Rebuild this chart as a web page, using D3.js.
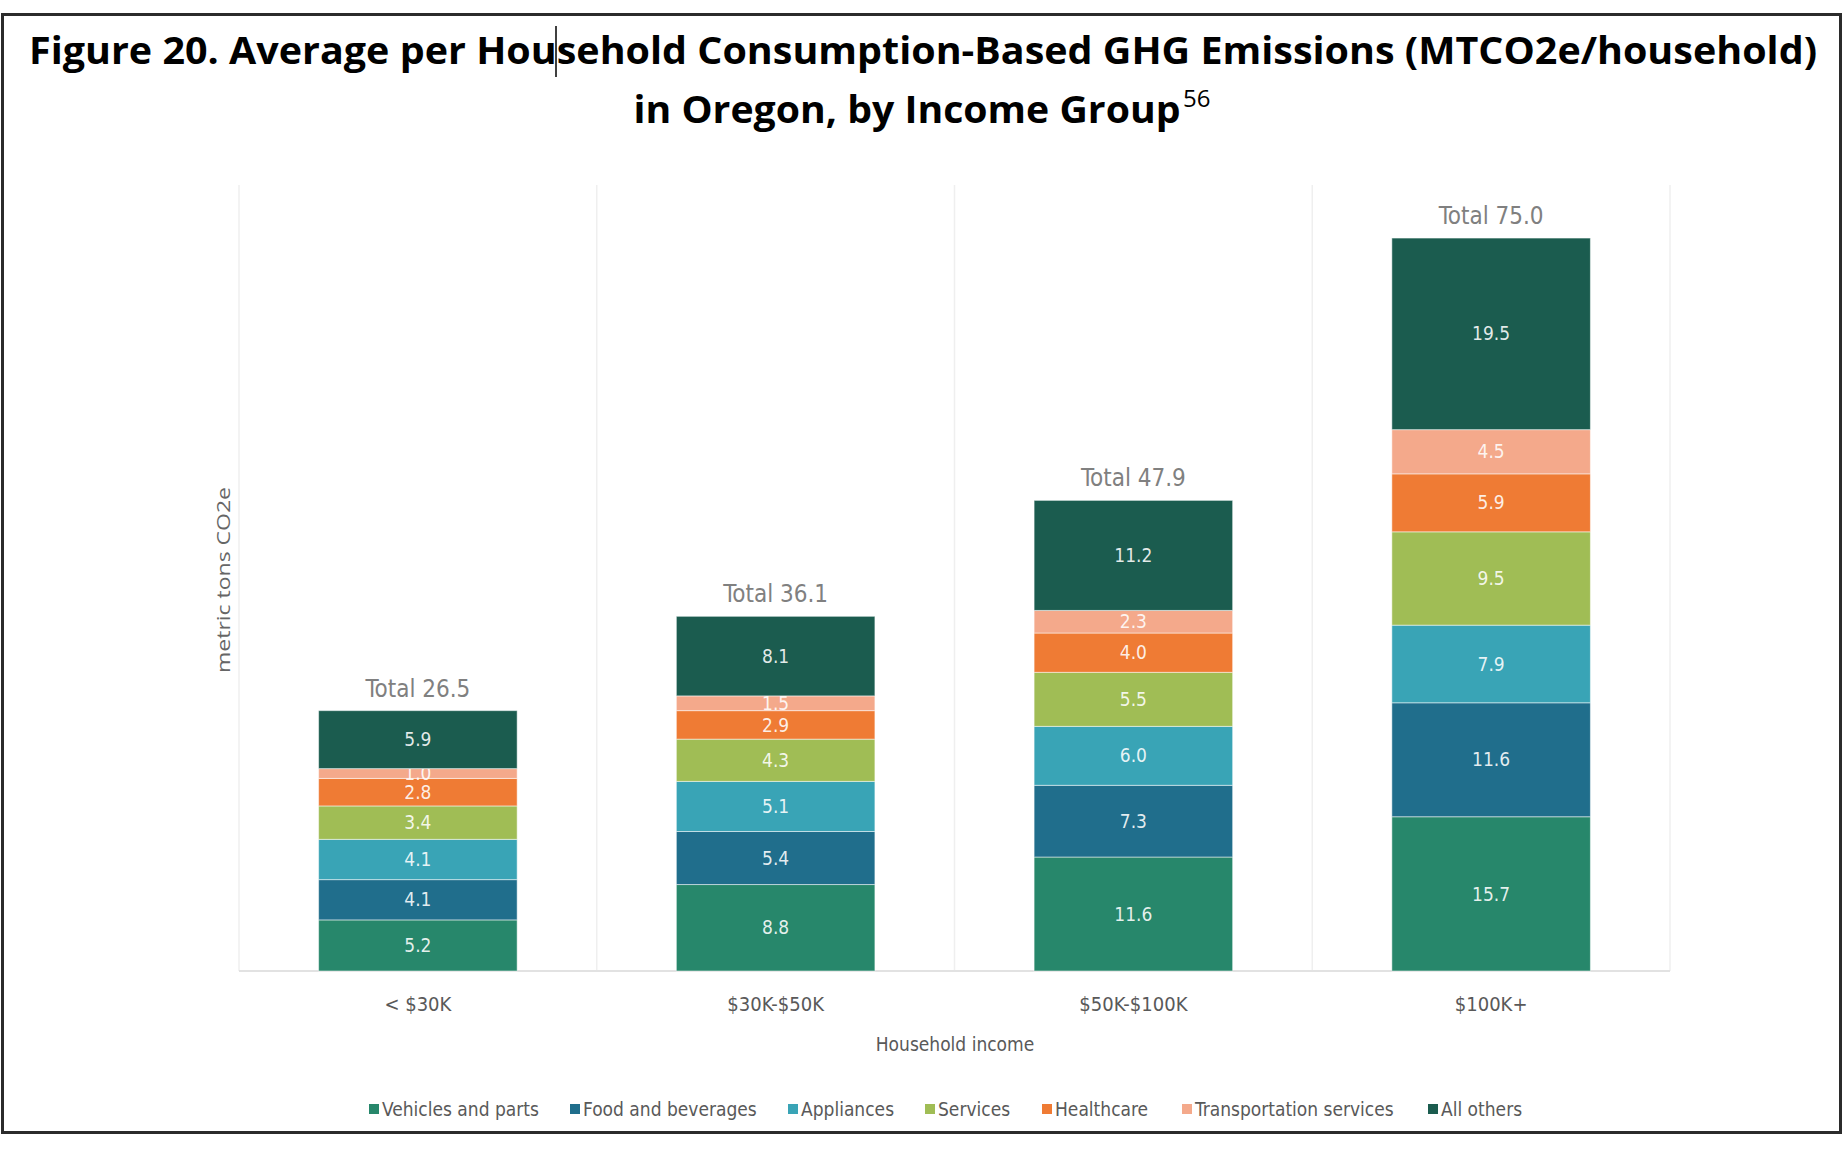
<!DOCTYPE html>
<html>
<head>
<meta charset="utf-8">
<script src="https://d3js.org/d3.v7.min.js"></script>
<style>
  body { margin: 0; background: #fff; }
  svg { display: block; }
</style>
</head>
<body>
<svg></svg>
<script>
  const width = 1844;
  const height = 1156;

  // data
  const incomeGroups = ["< $30K", "$30K-$50K", "$50K-$100K", "$100K+"];
  const categories = ["Vehicles and parts", "Food and beverages", "Appliances", "Services",
                      "Healthcare", "Transportation services", "All others"];
  const vehicles       = [5.2, 8.8, 11.6, 15.7];
  const food           = [4.1, 5.4, 7.3, 11.6];
  const appliances     = [4.1, 5.1, 6.0, 7.9];
  const services       = [3.4, 4.3, 5.5, 9.5];
  const healthcare     = [2.8, 2.9, 4.0, 5.9];
  const transportation = [1.0, 1.5, 2.3, 4.5];
  const allOthers      = [5.9, 8.1, 11.2, 19.5];
  const totals         = [26.5, 36.1, 47.9, 75.0];
  const colors = ["#27876b", "#206e8c", "#39a4b6", "#a0bd55", "#ef7b34", "#f4a98b", "#1b5c4f"];

  const series = [vehicles, food, appliances, services, healthcare, transportation, allOthers];
  const table = incomeGroups.map((g, i) => {
    const row = { group: g, total: totals[i] };
    categories.forEach((c, j) => row[c] = series[j][i]);
    return row;
  });

  const svg = d3.select('svg').attr('width', width).attr('height', height);
  const condensed = '"Liberation Sans Narrow", "DejaVu Sans Condensed", "Roboto", sans-serif';

  // frame
  svg.append('rect')
      .attr('x', 2.5).attr('y', 14.5).attr('width', 1838).attr('height', 1118)
      .attr('fill', 'none').attr('stroke', '#2b2b2b').attr('stroke-width', 3);

  // title
  const title = svg.append('g')
      .attr('font-family', '"Open Sans", sans-serif')
      .attr('font-weight', 700)
      .attr('fill', '#000');
  title.append('text')
      .attr('x', 923).attr('y', 64)
      .attr('text-anchor', 'middle')
      .attr('font-size', 38)
      .attr('textLength', 1788).attr('lengthAdjust', 'spacingAndGlyphs')
      .text('Figure 20. Average per Household Consumption-Based GHG Emissions (MTCO2e/household)');
  title.append('text')
      .attr('x', 907).attr('y', 123)
      .attr('text-anchor', 'middle')
      .attr('font-size', 38)
      .attr('textLength', 547).attr('lengthAdjust', 'spacingAndGlyphs')
      .text('in Oregon, by Income Group');
  title.append('text')
      .attr('x', 1183).attr('y', 107)
      .attr('font-size', 24)
      .attr('font-weight', 400)
      .text('56');
  // text cursor left in the screenshot
  svg.append('line')
      .attr('x1', 556).attr('x2', 556).attr('y1', 26).attr('y2', 77)
      .attr('stroke', '#000').attr('stroke-width', 1.5);

  // scales
  const x = d3.scaleBand()
      .domain(incomeGroups)
      .range([239, 1670])
      .paddingInner(0.445)
      .paddingOuter(0.2225);
  const y = d3.scaleLinear().domain([0, 80]).range([971, 185]);
  const color = d3.scaleOrdinal().domain(categories).range(colors);

  // faint vertical separators
  const step = x.step();
  const seps = d3.range(incomeGroups.length + 1).map(i => 239 + i * step);
  svg.append('g').selectAll('line')
      .data(seps)
      .join('line')
      .attr('x1', d => d).attr('x2', d => d)
      .attr('y1', y(80)).attr('y2', y(0))
      .attr('stroke', '#efefef').attr('stroke-width', 1.5);

  // baseline
  svg.append('line')
      .attr('x1', 239).attr('x2', 1670)
      .attr('y1', y(0)).attr('y2', y(0))
      .attr('stroke', '#e2e2e2').attr('stroke-width', 2);

  const stacked = d3.stack().keys(categories)(table);

  const layers = svg.append('g').selectAll('g')
      .data(stacked)
      .join('g')
      .attr('fill', d => color(d.key));

  layers.selectAll('rect')
      .data(d => d)
      .join('rect')
      .attr('x', d => x(d.data.group))
      .attr('width', x.bandwidth())
      .attr('y', d => y(d[1]))
      .attr('height', d => y(d[0]) - y(d[1]))
      .attr('stroke', 'rgba(255,255,255,0.5)')
      .attr('stroke-width', 1);

  // segment labels
  layers.selectAll('text')
      .data(d => d.map(s => Object.assign({ key: d.key }, s)))
      .join('text')
      .attr('x', d => x(d.data.group) + x.bandwidth() / 2)
      .attr('y', d => (y(d[0]) + y(d[1])) / 2)
      .attr('dy', '0.35em')
      .attr('text-anchor', 'middle')
      .attr('font-family', condensed)
      .attr('font-size', 19)
      .attr('fill', '#fff')
      .attr('fill-opacity', 0.88)
      .text(d => d.data[d.key].toFixed(1));

  // totals
  svg.append('g').selectAll('text')
      .data(table)
      .join('text')
      .attr('x', d => x(d.group) + x.bandwidth() / 2)
      .attr('y', d => y(stacked[stacked.length - 1][table.indexOf(d)][1]) - 14)
      .attr('text-anchor', 'middle')
      .attr('font-family', condensed)
      .attr('font-size', 24)
      .attr('fill', '#808080')
      .text(d => 'Total ' + d.total.toFixed(1));

  // x axis labels
  const xAxis = svg.append('g')
      .attr('transform', `translate(0,${y(0)})`)
      .call(d3.axisBottom(x).tickSize(0).tickPadding(26));
  xAxis.select('.domain').remove();
  xAxis.selectAll('text')
      .attr('font-family', condensed)
      .attr('font-size', 20)
      .attr('fill', '#595959');

  svg.append('text')
      .attr('x', 955).attr('y', 1051)
      .attr('text-anchor', 'middle')
      .attr('font-family', condensed)
      .attr('font-size', 19)
      .attr('fill', '#595959')
      .text('Household income');

  svg.append('text')
      .attr('transform', 'translate(230,580) rotate(-90)')
      .attr('text-anchor', 'middle')
      .attr('font-family', '"Open Sans", sans-serif')
      .attr('font-size', 19)
      .attr('textLength', 186).attr('lengthAdjust', 'spacingAndGlyphs')
      .attr('fill', '#666')
      .text('metric tons CO2e');

  // legend
  const legendX = [369, 570, 788, 925, 1042, 1182, 1428];
  const legend = svg.append('g').selectAll('g')
      .data(categories)
      .join('g')
      .attr('transform', (d, i) => `translate(${legendX[i]},1109)`);
  legend.append('rect')
      .attr('x', 0).attr('y', -5).attr('width', 10).attr('height', 10)
      .attr('fill', d => color(d));
  legend.append('text')
      .attr('x', 13).attr('y', 0).attr('dy', '0.35em')
      .attr('font-family', condensed)
      .attr('font-size', 19)
      .attr('fill', '#595959')
      .text(d => d);
</script>
</body>
</html>
